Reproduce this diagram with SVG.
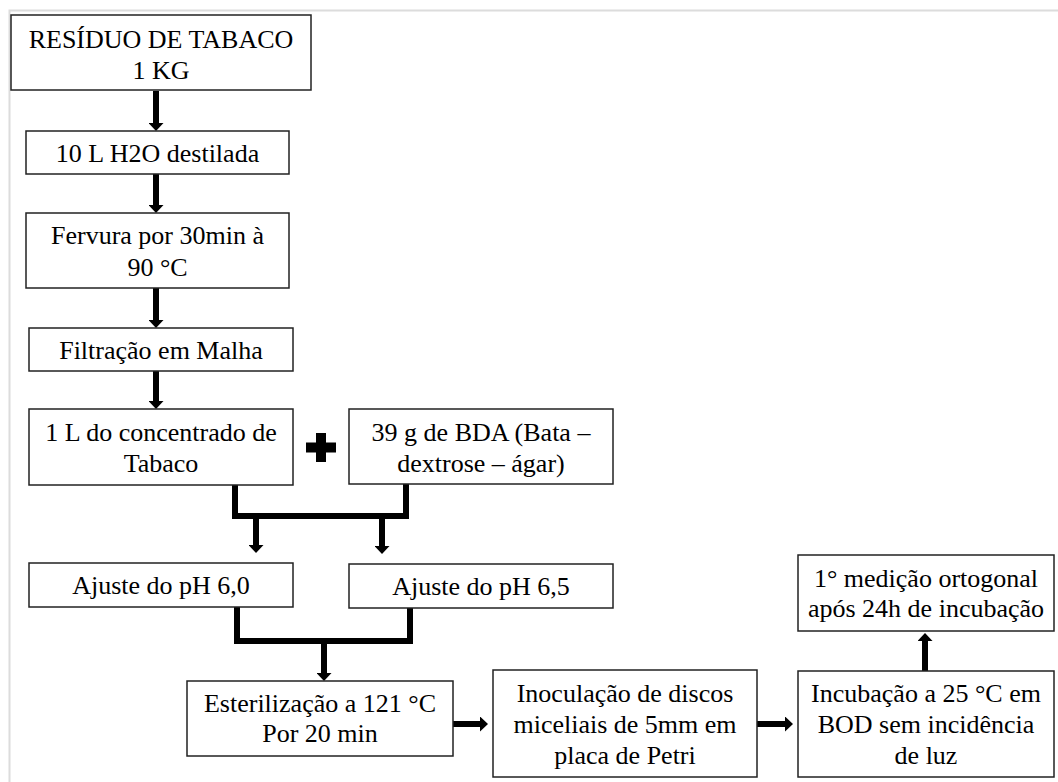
<svg xmlns="http://www.w3.org/2000/svg" width="1058" height="782" viewBox="0 0 1058 782">
  <style>
    .box { fill: #ffffff; stroke: #222222; stroke-width: 1.5; }
    .t { font-family: 'Liberation Serif', 'Tinos', 'DejaVu Serif', serif; font-size: 26px; fill: #000000; text-anchor: middle; }
    .conn { fill: none; stroke: #000000; stroke-width: 6; stroke-linecap: butt; stroke-linejoin: miter; }
    .arr { fill: none; stroke: #000000; stroke-width: 6; stroke-linecap: butt; marker-end: url(#head); }
    .frame { fill: none; stroke: #dcdcdc; stroke-width: 2; }
  </style>
  <defs>
    <marker id="head" markerUnits="userSpaceOnUse" markerWidth="9" markerHeight="15" refX="0" refY="7.5" orient="auto" viewBox="0 0 9 15">
      <path d="M0,0 L8,7.5 L0,15 Z" fill="#000000"/>
    </marker>
  </defs>
  <rect x="0" y="0" width="1058" height="782" fill="#ffffff"/>
  <path class="frame" d="M9.5,782 V10.5 H1058"/>

  <g id="connectors">
    <line class="arr" x1="156" y1="91" x2="156" y2="123"/>
    <line class="arr" x1="156" y1="174" x2="156" y2="205"/>
    <line class="arr" x1="156" y1="288" x2="156" y2="320"/>
    <line class="arr" x1="156" y1="371" x2="156" y2="401"/>
    <path class="conn" d="M235,485 V516 H406 V484"/>
    <line class="arr" x1="256" y1="516" x2="256" y2="545"/>
    <line class="arr" x1="382" y1="516" x2="382" y2="546"/>
    <path class="conn" d="M237,607 V641 H410 V608"/>
    <line class="arr" x1="324" y1="641" x2="324" y2="673"/>
    <line class="arr" x1="453" y1="724" x2="480" y2="724"/>
    <line class="arr" x1="757" y1="724" x2="785" y2="724"/>
    <line class="arr" x1="925" y1="671" x2="925" y2="641"/>
  </g>

  <g id="plus">
    <path d="M316,433 H326 V442.5 H336 V452.5 H326 V462 H316 V452.5 H306 V442.5 H316 Z" fill="#000000"/>
  </g>

  <g id="n1">
    <rect class="box" x="11" y="15" width="300" height="75"/>
    <text class="t" x="161" y="48" font-family="Liberation Serif, serif">RESÍDUO DE TABACO</text>
    <text class="t" x="161" y="79">1 KG</text>
  </g>
  <g id="n2">
    <rect class="box" x="26" y="131" width="263" height="43"/>
    <text class="t" x="157.5" y="162">10 L H2O destilada</text>
  </g>
  <g id="n3">
    <rect class="box" x="26" y="213" width="263" height="75"/>
    <text class="t" x="157.5" y="244">Fervura por 30min à</text>
    <text class="t" x="157.5" y="276">90 °C</text>
  </g>
  <g id="n4">
    <rect class="box" x="29" y="328" width="264" height="43"/>
    <text class="t" x="161" y="359">Filtração em Malha</text>
  </g>
  <g id="n5">
    <rect class="box" x="29" y="409" width="264" height="76"/>
    <text class="t" x="161" y="441">1 L do concentrado de</text>
    <text class="t" x="161" y="472">Tabaco</text>
  </g>
  <g id="n6">
    <rect class="box" x="349" y="409" width="264" height="75"/>
    <text class="t" x="481" y="441">39 g de BDA (Bata –</text>
    <text class="t" x="481" y="472">dextrose – ágar)</text>
  </g>
  <g id="n7">
    <rect class="box" x="29" y="563" width="264" height="44"/>
    <text class="t" x="161" y="594">Ajuste do pH 6,0</text>
  </g>
  <g id="n8">
    <rect class="box" x="349" y="564" width="264" height="44"/>
    <text class="t" x="481" y="595">Ajuste do pH 6,5</text>
  </g>
  <g id="n9">
    <rect class="box" x="187" y="681" width="266" height="75"/>
    <text class="t" x="320" y="712">Esterilização a 121 °C</text>
    <text class="t" x="320" y="742">Por 20 min</text>
  </g>
  <g id="n10">
    <rect class="box" x="493" y="670" width="264" height="107"/>
    <text class="t" x="625" y="702">Inoculação de discos</text>
    <text class="t" x="625" y="733">miceliais de 5mm em</text>
    <text class="t" x="625" y="764">placa de Petri</text>
  </g>
  <g id="n11">
    <rect class="box" x="798" y="671" width="256" height="106"/>
    <text class="t" x="926" y="702">Incubação a 25 °C em</text>
    <text class="t" x="926" y="733">BOD sem incidência</text>
    <text class="t" x="926" y="764">de luz</text>
  </g>
  <g id="n12">
    <rect class="box" x="798" y="555" width="256" height="76"/>
    <text class="t" x="926" y="587">1° medição ortogonal</text>
    <text class="t" x="926" y="617">após 24h de incubação</text>
  </g>
</svg>
